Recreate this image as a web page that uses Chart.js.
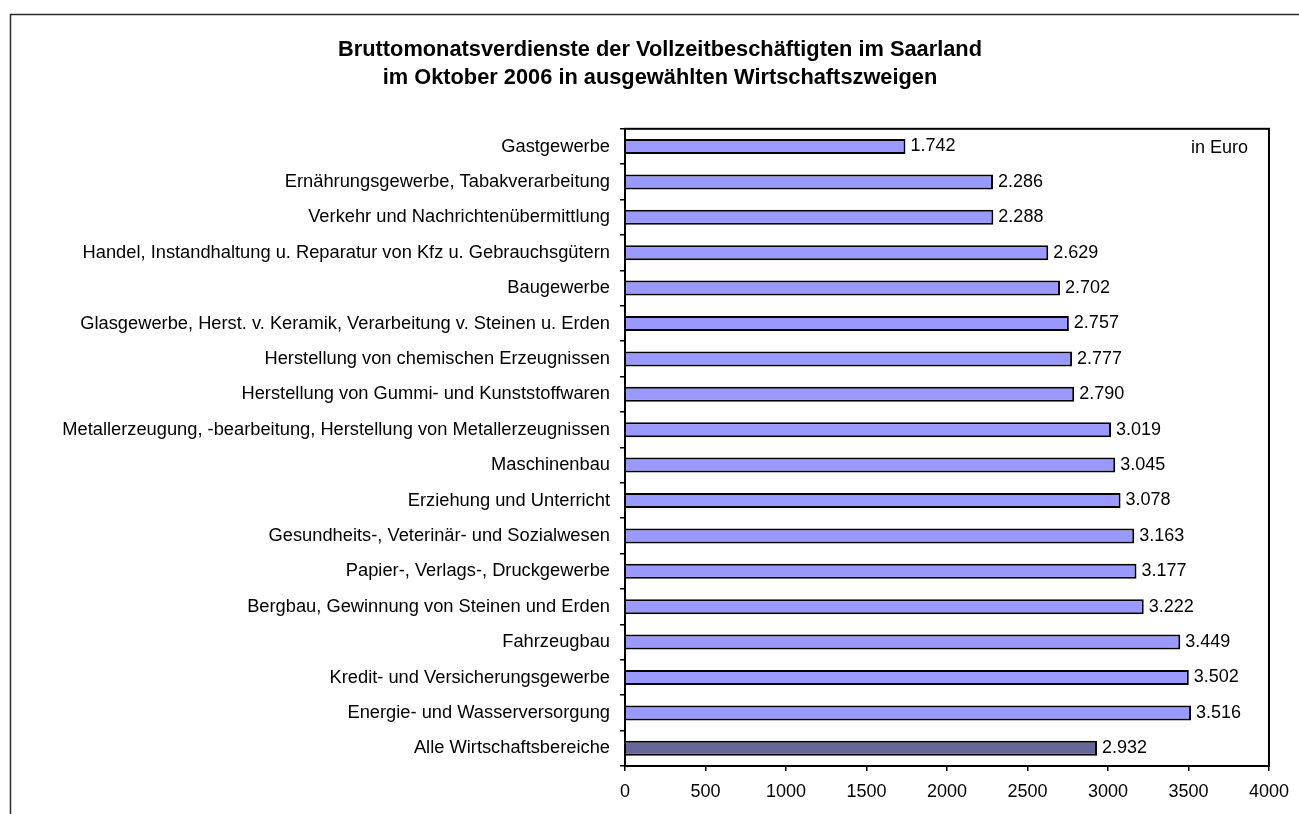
<!DOCTYPE html>
<html>
<head>
<meta charset="utf-8">
<script src="https://cdn.jsdelivr.net/npm/chart.js@4"></script>
<style>
  html, body { margin: 0; padding: 0; background: #fff; overflow: hidden; }
  #chartWages { display: block; }
</style>
</head>
<body>
<canvas id="chartWages" width="1299" height="814"></canvas>
<script>
var categories = [
    'Gastgewerbe',
    'Ernährungsgewerbe, Tabakverarbeitung',
    'Verkehr und Nachrichtenübermittlung',
    'Handel, Instandhaltung u. Reparatur von Kfz u. Gebrauchsgütern',
    'Baugewerbe',
    'Glasgewerbe, Herst. v. Keramik, Verarbeitung v. Steinen u. Erden',
    'Herstellung von chemischen Erzeugnissen',
    'Herstellung von Gummi- und Kunststoffwaren',
    'Metallerzeugung, -bearbeitung, Herstellung von Metallerzeugnissen',
    'Maschinenbau',
    'Erziehung und Unterricht',
    'Gesundheits-, Veterinär- und Sozialwesen',
    'Papier-, Verlags-, Druckgewerbe',
    'Bergbau, Gewinnung von Steinen und Erden',
    'Fahrzeugbau',
    'Kredit- und Versicherungsgewerbe',
    'Energie- und Wasserversorgung',
    'Alle Wirtschaftsbereiche'
];
var earnings = [1742, 2286, 2288, 2629, 2702, 2757, 2777, 2790, 3019, 3045,
    3078, 3163, 3177, 3222, 3449, 3502, 3516, 2932];
var xTicks = [0, 500, 1000, 1500, 2000, 2500, 3000, 3500, 4000];

var FONT = "Arial, 'Liberation Sans', sans-serif";

function fmt(v) {
    return String(v).replace(/\B(?=(\d{3})+(?!\d))/g, '.');
}

var barColors = earnings.map(function (v, i) {
    return i === earnings.length - 1 ? '#666699' : '#9999FF';
});

// outer frame, plot box, value labels and unit note
var extras = {
    id: 'extras',
    afterDraw: function (chart) {
        var c = chart.ctx;
        var a = chart.chartArea;
        c.save();
        c.strokeStyle = '#2a2a2a';
        c.lineWidth = 1.5;
        c.beginPath();
        c.moveTo(10.5, 814);
        c.lineTo(10.5, 14.5);
        c.lineTo(1299, 14.5);
        c.stroke();

        c.strokeStyle = '#000';
        c.lineWidth = 2;
        c.strokeRect(a.left, a.top, a.right - a.left, a.bottom - a.top);

        c.fillStyle = '#000';
        c.font = '18px ' + FONT;
        c.textBaseline = 'middle';
        c.textAlign = 'left';
        var meta = chart.getDatasetMeta(0);
        meta.data.forEach(function (bar, i) {
            c.fillText(fmt(earnings[i]), bar.x + 5, bar.y);
        });
        c.textAlign = 'right';
        c.fillText('in Euro', a.right - 21, a.top + 19);
        c.restore();
    }
};

var ctx = document.getElementById('chartWages').getContext('2d');
var myChart = new Chart(ctx, {
    type: 'bar',
    data: {
        labels: categories,
        datasets: [{
            data: earnings,
            backgroundColor: barColors,
            borderColor: '#000',
            borderWidth: 2,
            barPercentage: 0.424,
            categoryPercentage: 1
        }]
    },
    options: {
        indexAxis: 'y',
        responsive: false,
        animation: false,
        layout: { padding: { left: 46, right: 25, bottom: 0, top: 0 } },
        plugins: {
            legend: { display: false },
            tooltip: { enabled: false },
            title: {
                display: true,
                text: ['Bruttomonatsverdienste der Vollzeitbeschäftigten im Saarland',
                       'im Oktober 2006 in ausgewählten Wirtschaftszweigen'],
                color: '#000',
                font: { family: FONT, size: 21.8, weight: 'bold', lineHeight: 1.28 },
                padding: { top: 36, bottom: 37 }
            }
        },
        scales: {
            x: {
                min: 0,
                max: 4000,
                afterBuildTicks: function (scale) {
                    scale.ticks = xTicks.map(function (v) { return { value: v }; });
                },
                afterFit: function (scale) { scale.height = 48; },
                grid: { drawOnChartArea: false, drawTicks: true, tickLength: 5, color: '#000', lineWidth: 1.5 },
                border: { display: true, color: '#000', width: 2 },
                ticks: {
                    color: '#000', font: { family: FONT, size: 18 }, padding: 10, maxRotation: 0,
                    callback: function (v) { return String(v); }
                }
            },
            y: {
                afterFit: function (scale) { scale.width = 579; },
                grid: { drawOnChartArea: false, drawTicks: true, tickLength: 5, color: '#000', lineWidth: 1.5, offset: true },
                border: { display: true, color: '#000', width: 2 },
                ticks: { color: '#000', font: { family: FONT, size: 18.3 }, padding: 10, autoSkip: false }
            }
        }
    },
    plugins: [extras]
});
</script>
</body>
</html>
